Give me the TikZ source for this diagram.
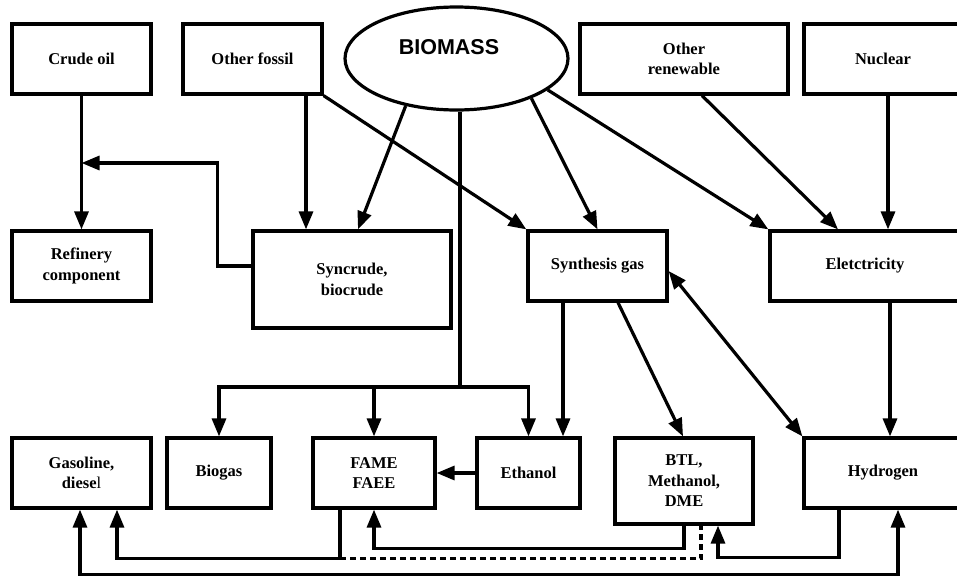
\documentclass[tikz,border=0pt]{standalone}
\usepackage{fontspec}
\setmainfont{Liberation Serif}
\newfontfamily\arialfont{Liberation Sans}
\usetikzlibrary{arrows.meta,shapes.geometric}
\begin{document}
\begin{tikzpicture}[x=1pt,y=-1pt,
  box/.style={draw,line width=3.2pt,rectangle,inner sep=0pt,align=center,
    font=\fontsize{16.5}{20.5}\selectfont\bfseries},
  arr/.style={line width=3.2pt,-{Triangle[length=18pt,width=14pt]}},
  arrtwo/.style={line width=3.2pt,{Triangle[length=18pt,width=14pt]}-{Triangle[length=18pt,width=14pt]}},
  conn/.style={line width=3.2pt},
  dashconn/.style={line width=3.2pt,dash pattern=on 6pt off 4pt}]
\useasboundingbox (0,0) rectangle (957,576);

% top row
\node[box,minimum width=139pt,minimum height=70pt] (crude) at (81.5,59) {Crude oil};
\node[box,minimum width=139pt,minimum height=70pt] (fossil) at (252.5,59) {Other fossil};
\node[ellipse,draw,line width=3.2pt,minimum width=223pt,minimum height=103pt,inner sep=0pt] (biomass) at (456.5,58.5) {};
\node[font=\arialfont\fontsize{21.5}{24}\selectfont\bfseries] (biomasstext) at (449,47) {BIOMASS};
\node[box,minimum width=208pt,minimum height=70pt] (renew) at (684,59) {Other\\renewable};
\node[box,minimum width=158pt,minimum height=70pt] (nuclear) at (883,59) {Nuclear};

% middle row
\node[box,minimum width=139pt,minimum height=70pt] (refinery) at (81.5,266) {Refinery\\component};
\node[box,minimum width=198pt,minimum height=97pt] (syncrude) at (352,279.5) {Syncrude,\\biocrude};
\node[box,minimum width=139pt,minimum height=70pt] (synth) at (597.5,266) {Synthesis gas};
\node[box,minimum width=190pt,minimum height=70pt] (elec) at (865,266) {Eletctricity};

% bottom row
\node[box,minimum width=139pt,minimum height=70pt] (gasoline) at (81.5,473) {Gasoline,\\diese{\mdseries l}};
\node[box,minimum width=104pt,minimum height=70pt] (biogas) at (219,473) {Biogas};
\node[box,minimum width=122pt,minimum height=70pt] (fame) at (374,473) {FAME\\FAEE};
\node[box,minimum width=103pt,minimum height=70pt] (ethanol) at (528.5,473) {Ethanol};
\node[box,minimum width=138pt,minimum height=86pt] (btl) at (684,481) {BTL,\\Methanol,\\DME};
\node[box,minimum width=158pt,minimum height=70pt] (hydrogen) at (883,473) {Hydrogen};

\coordinate (j1) at (81.5,163);
\coordinate (j2) at (460,387);

% connectors
\draw[arr] (crude) -- (refinery);
\draw[arr] ([yshift=13.5pt]syncrude.west) -- ++(-34,0) |- (j1);
\draw[arr] ([xshift=53.5pt]fossil.south) -- ([xshift=53.5pt]fossil.south |- syncrude.north);
\draw[arr] (fossil.south east) -- (synth.north west);
\draw[arr] (biomass.223) -- ([xshift=6pt]syncrude.north);
\draw[arr] (biomass.332) -- (synth.north);
\draw[arr] (biomass.341.6) -- (elec.north west);
\draw[arr] ([xshift=18pt]renew.south) -- ([xshift=-27pt]elec.north);
\draw[arr] ([xshift=5pt]nuclear.south) -- ([xshift=5pt]nuclear.south |- elec.north);

\draw[conn] (biomass.south -| j2) -- (j2);
\draw[arr] (j2) -| (biogas.north);
\draw[arr] (j2) -| (fame.north);
\draw[arr] (j2) -| (ethanol.north);

\draw[arr] ([xshift=-34.5pt]synth.south) -- ([xshift=-34.5pt]synth.south |- ethanol.north);
\draw[arr] ([xshift=20.5pt]synth.south) -- ([xshift=-1pt]btl.north);
\draw[arrtwo] ([yshift=-5pt]synth.east) -- (hydrogen.north west);
\draw[arr] ([xshift=25pt]elec.south) -- ([xshift=25pt]elec.south |- hydrogen.north);
\draw[arr] (ethanol.west) -- (fame.east);

% bottom connectors
\draw[arr] ([xshift=-34pt]fame.south) -- ++(0,49) -| ([xshift=35.5pt]gasoline.south);
\draw[dashconn] ([xshift=-34pt]fame.south) ++(0,49) -| ([xshift=17pt]btl.south);
\draw[arr] (btl.south) -- ++(0,23) -| (fame.south);
\draw[arr] ([xshift=-44pt]hydrogen.south) -- ++(0,48) -| ([xshift=34pt]btl.south);
\draw[arrtwo] ([xshift=-1.5pt]gasoline.south) -- ++(0,64.5) -| ([xshift=15pt]hydrogen.south);
\end{tikzpicture}
\end{document}
